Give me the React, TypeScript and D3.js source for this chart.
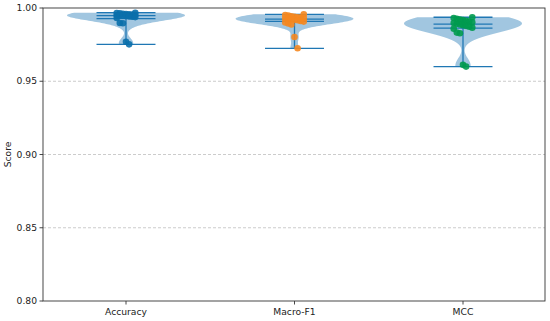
import React from 'react';
import * as d3 from 'd3';

// metric names shown on the x axis
const metrics = ['Accuracy', 'Macro-F1', 'MCC'];

// per-fold scores
const accuracyScores = [
  0.9968, 0.9966, 0.9963, 0.9961, 0.9959, 0.9957, 0.9955, 0.9953, 0.9951, 0.9949,
  0.9947, 0.9945, 0.9943, 0.9941, 0.9938, 0.9932, 0.9898, 0.9896, 0.977, 0.9752,
];
const macroF1Scores = [
  0.9957, 0.9952, 0.9948, 0.9944, 0.994, 0.9937, 0.9934, 0.9931, 0.9928, 0.9926,
  0.9923, 0.992, 0.9916, 0.9912, 0.9907, 0.9901, 0.9895, 0.9888, 0.9802, 0.9725,
];
const mccScores = [
  0.9937, 0.9932, 0.9927, 0.9922, 0.9917, 0.9912, 0.9907, 0.9902, 0.9897, 0.9892,
  0.9888, 0.9883, 0.9878, 0.9872, 0.9866, 0.9858, 0.9832, 0.9828, 0.9612, 0.96,
];

const yTicks = [0.8, 0.85, 0.9, 0.95, 1.0];
const gridTicks = [0.85, 0.9, 0.95];
const pointColors = ['#0a6fab', '#f5871f', '#009a4e'];

const width = 550;
const height = 321;
const left = 43;
const right = 545;
const top = 8;
const bottom = 301;
const font = '"DejaVu Sans", sans-serif';
const lineColor = '#1f77b4';

// gaussian kde like matplotlib's violinplot (scott bandwidth, min..max range)
function violinPath(values: number[], pos: number, x: d3.ScaleLinear<number, number>, y: d3.ScaleLinear<number, number>) {
  const n = values.length;
  const sd = d3.deviation(values) as number;
  const bw = sd * Math.pow(n, -0.2);
  const lo = d3.min(values) as number;
  const hi = d3.max(values) as number;
  const pts = d3.range(100).map((i) => lo + ((hi - lo) * i) / 99);
  const dens = pts.map((p) =>
    d3.sum(values, (v) => Math.exp(-0.5 * ((p - v) / bw) ** 2))
  );
  const dmax = d3.max(dens) as number;
  const half = 0.35;
  const ptsR = pts.map((p, i) => [x(pos + (half * dens[i]) / dmax), y(p)] as [number, number]);
  const ptsL = pts.map((p, i) => [x(pos - (half * dens[i]) / dmax), y(p)] as [number, number]).reverse();
  return (d3.line()([...ptsR, ...ptsL]) as string) + 'Z';
}

const App: React.FC = () => {
  const x = d3.scaleLinear().domain([1, 3]).range([126, 463]);
  const y = d3.scaleLinear().domain([0.8, 1.0]).range([bottom, top]);
  const series = [accuracyScores, macroF1Scores, mccScores];

  return (
    <svg
      width={width}
      height={height}
      style={{ position: 'absolute', left: 0, top: 0, background: '#fff' }}
      fontFamily={font}
    >
      {gridTicks.map((t) => (
        <line
          key={t}
          x1={left}
          x2={right}
          y1={y(t)}
          y2={y(t)}
          stroke="#b0b0b0"
          strokeWidth={0.8}
          strokeDasharray="3,2"
          opacity={0.8}
        />
      ))}

      {series.map((vals, i) => {
        const pos = i + 1;
        const cx = x(pos);
        const lo = d3.min(vals) as number;
        const hi = d3.max(vals) as number;
        const mean = d3.mean(vals) as number;
        const med = d3.median(vals) as number;
        const barHalf = x(pos + 0.175) - cx;
        return (
          <g key={metrics[i]}>
            <path d={violinPath(vals, pos, x, y)} fill={lineColor} fillOpacity={0.42} stroke="none" />
            <line x1={cx} x2={cx} y1={y(hi)} y2={y(lo)} stroke={lineColor} strokeWidth={1.3} />
            {[hi, lo, mean, med].map((v, k) => (
              <line
                key={k}
                x1={cx - barHalf}
                x2={cx + barHalf}
                y1={y(v)}
                y2={y(v)}
                stroke={lineColor}
                strokeWidth={1.3}
              />
            ))}
            {vals.map((v, j) => {
              const jitter = -((((j * 6) % 7) - 3) / 3) * 0.055;
              return (
                <circle
                  key={j}
                  cx={x(pos + jitter)}
                  cy={y(v)}
                  r={3.3}
                  fill={pointColors[i]}
                  opacity={0.9}
                />
              );
            })}
          </g>
        );
      })}

      {/* frame */}
      <rect x={left} y={top} width={right - left} height={bottom - top} fill="none" stroke="#333" strokeWidth={0.9} />

      {yTicks.map((t) => (
        <g key={t}>
          <line x1={left - 3.5} x2={left} y1={y(t)} y2={y(t)} stroke="#333" strokeWidth={0.9} />
          <text x={left - 6} y={y(t)} dy="0.35em" textAnchor="end" fontSize={9.2} fill="#222">
            {d3.format('.2f')(t)}
          </text>
        </g>
      ))}

      {metrics.map((m, i) => (
        <g key={m}>
          <line x1={x(i + 1)} x2={x(i + 1)} y1={bottom} y2={bottom + 3.5} stroke="#333" strokeWidth={0.9} />
          <text x={x(i + 1)} y={bottom + 14} textAnchor="middle" fontSize={9.2} fill="#222">
            {m}
          </text>
        </g>
      ))}

      <text
        transform={`translate(11,${(top + bottom) / 2}) rotate(-90)`}
        textAnchor="middle"
        fontSize={9.2}
        fill="#222"
      >
        Score
      </text>
    </svg>
  );
};

export default App;
